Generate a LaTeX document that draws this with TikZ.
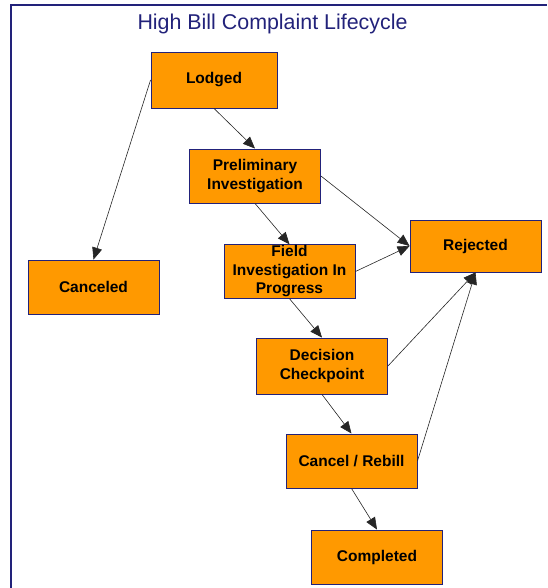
\documentclass[tikz,border=0pt]{standalone}
\usepackage{fontspec}
\setmainfont{Liberation Sans}
\usetikzlibrary{arrows.meta}
\definecolor{stateorange}{HTML}{FF9900}
\definecolor{framenavy}{HTML}{22227A}

\begin{document}
\begin{tikzpicture}[
    x=1pt, y=-1pt,
    state/.style={draw=framenavy, fill=stateorange, line width=0.9pt, minimum width=131pt, minimum height=54pt, align=center, inner sep=1pt, font=\fontsize{15.5}{18.5}\selectfont\bfseries},
    flow/.style={-{Triangle[length=12pt, width=10pt]}, draw=black!85, line width=0.6pt}
]
\useasboundingbox (0,0) rectangle (547,588);

% === Frame and title ===
\draw[framenavy, line width=1.4pt] (11,588) -- (11,5) -- (547,5);
\node[text=framenavy, font=\fontsize{21.4}{25}\selectfont] (title) at (272.5,24) {High Bill Complaint Lifecycle};

% === States ===
\node[state, minimum width=126pt, minimum height=56pt] (lodged) at (214,80) {Lodged};
\node[state] (prelim) at (255,176) {Preliminary\\Investigation};
\node[state, minimum height=53pt] (field) at (289.5,271.5) {Field\\Investigation In\\Progress};
\node[state, minimum height=52pt] (rejected) at (475.5,246) {Rejected};
\node[state] (canceled) at (93.5,287) {Canceled};
\node[state, minimum height=56pt] (decision) at (322,366) {Decision\\Checkpoint};
\node[state] (rebill) at (351.5,461) {Cancel / Rebill};
\node[state] (completed) at (377,557) {Completed};

% === Transitions ===
\draw[flow] (lodged.south) -- (prelim.north);
\draw[flow] (lodged.west) -- (canceled.north);
\draw[flow] (prelim.south) -- (field.north);
\draw[flow] (prelim.east) -- (rejected.west);
\draw[flow] (field.east) -- (rejected.west);
\draw[flow] (field.south) -- (decision.north);
\draw[flow] (decision.east) -- (rejected.south);
\draw[flow] (decision.south) -- (rebill.north);
\draw[flow] (rebill.east) -- (rejected.south);
\draw[flow] (rebill.south) -- (completed.north);

\end{tikzpicture}
\end{document}
